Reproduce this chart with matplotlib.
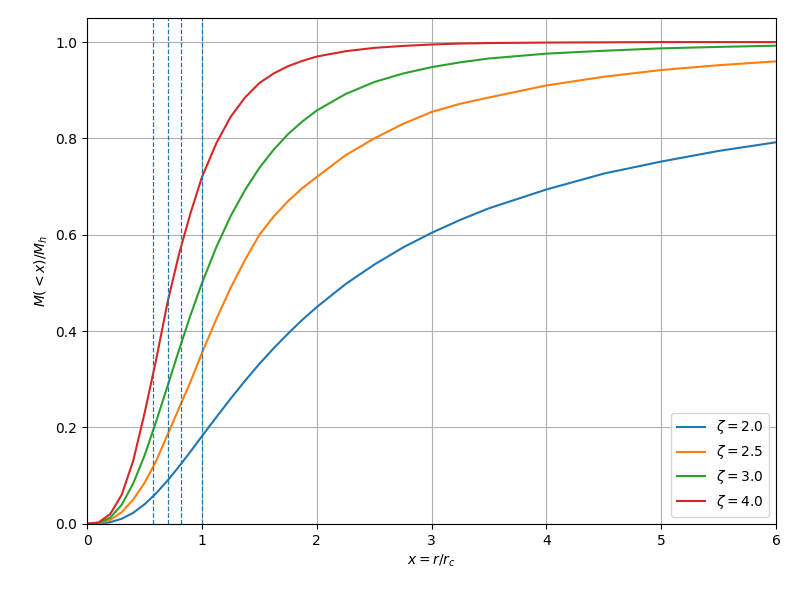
import matplotlib
matplotlib.use("Agg")
import matplotlib.pyplot as plt

x = [0, 0.1, 0.2, 0.3, 0.4, 0.5, 0.6, 0.7, 0.8, 0.9, 1.0, 1.125, 1.25, 1.375, 1.5, 1.625, 1.75, 1.875, 2, 2.25, 2.5, 2.75, 3, 3.25, 3.5, 4, 4.5, 5, 5.5, 6]
m_z20 = [0, 0.0004, 0.0032, 0.0104, 0.0227, 0.0405, 0.0632, 0.0897, 0.119, 0.150, 0.182, 0.2213, 0.260, 0.2969, 0.332, 0.3646, 0.395, 0.4237, 0.450, 0.4975, 0.538, 0.5735, 0.604, 0.631, 0.655, 0.694, 0.727, 0.752, 0.774, 0.792]
m_z25 = [0, 0.001, 0.008, 0.024, 0.05, 0.085, 0.13, 0.185, 0.24, 0.295, 0.355, 0.425, 0.49, 0.548, 0.60, 0.638, 0.67, 0.697, 0.72, 0.765, 0.80, 0.83, 0.855, 0.872, 0.885, 0.91, 0.928, 0.942, 0.952, 0.96]
m_z30 = [0, 0.0017, 0.0127, 0.0393, 0.0833, 0.142, 0.212, 0.286, 0.361, 0.433, 0.5, 0.5745, 0.639, 0.693, 0.739, 0.7768, 0.809, 0.8353, 0.858, 0.8921, 0.917, 0.9347, 0.948, 0.958, 0.966, 0.976, 0.982, 0.987, 0.990, 0.9925]
m_z40 = [0, 0.003, 0.02, 0.06, 0.13, 0.23, 0.34, 0.46, 0.56, 0.645, 0.72, 0.79, 0.845, 0.885, 0.915, 0.935, 0.95, 0.961, 0.97, 0.981, 0.988, 0.992, 0.995, 0.997, 0.998, 0.999, 0.9995, 1.0, 1.0, 1.0]
labels = [r"$\zeta = 2.0$", r"$\zeta = 2.5$", r"$\zeta = 3.0$", r"$\zeta = 4.0$"]
vlines = [1.0, 0.816, 0.707, 0.577]

fig, ax = plt.subplots(figsize=(8, 6), dpi=100)
for m, lab in zip([m_z20, m_z25, m_z30, m_z40], labels):
    ax.plot(x, m, label=lab)
for v in vlines:
    ax.axvline(v, color="C0", ls="--", lw=0.9)
ax.set_xlim(0, 6)
ax.set_ylim(0, 1.05)
ax.grid(True)
ax.set_xlabel(r"$x = r/r_c$")
ax.set_ylabel(r"$M(<x)/M_h$")
ax.legend(loc="lower right")
fig.subplots_adjust(left=0.109, right=0.97, top=0.97, bottom=0.127)
fig.savefig("out.png")
